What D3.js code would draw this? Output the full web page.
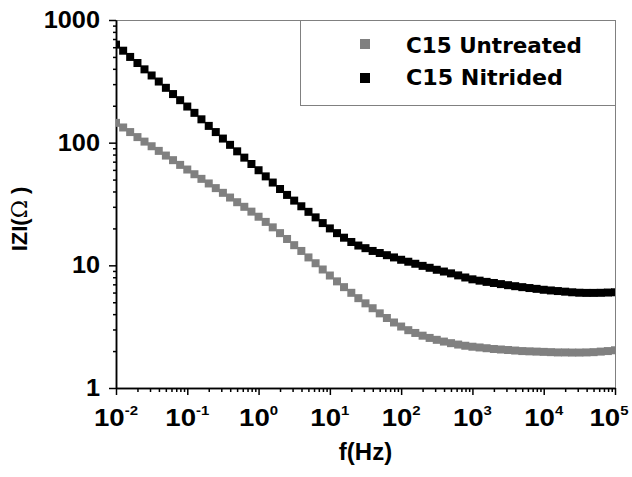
<!DOCTYPE html>
<html>
<head>
<meta charset="utf-8">
<script src="https://cdn.jsdelivr.net/npm/d3@7"></script>
<style>
  body { margin: 0; background: #fff; }
  .lbl { font-family: "Liberation Sans", Arial, sans-serif; font-weight: bold; fill: #000; }
  .leg { font-family: "DejaVu Sans", Verdana, sans-serif; font-weight: bold; fill: #000; }
</style>
</head>
<body>
<div class="canva"></div>
<script>
// frequency (Hz) and |Z| (ohm)
const freqHz = [0.01, 0.0126, 0.0158, 0.02, 0.0251, 0.0316, 0.0398, 0.0501, 0.0631, 0.0794,
  0.1, 0.126, 0.158, 0.2, 0.251, 0.316, 0.398, 0.501, 0.631, 0.794,
  1, 1.26, 1.58, 2, 2.51, 3.16, 3.98, 5.01, 6.31, 7.94,
  10, 12.6, 15.8, 20, 25.1, 31.6, 39.8, 50.1, 63.1, 79.4,
  100, 126, 158, 200, 251, 316, 398, 501, 631, 794,
  1000, 1260, 1580, 2000, 2510, 3160, 3980, 5010, 6310, 7940,
  10000, 12600, 15800, 20000, 25100, 31600, 39800, 50100, 63100, 79400,
  100000];

const untreated = [145, 133, 122, 111, 102, 93.5, 85.7, 78.5, 72.0, 65.9,
  60.4, 55.3, 50.7, 46.5, 42.6, 39.0, 35.7, 32.7, 30.0, 27.4,
  24.9, 22.6, 20.4, 18.3, 16.4, 14.6, 13.1, 11.6, 10.4, 9.25,
  8.26, 7.40, 6.64, 5.97, 5.40, 4.90, 4.47, 4.06, 3.72, 3.42,
  3.17, 2.96, 2.81, 2.67, 2.56, 2.47, 2.39, 2.32, 2.26, 2.21,
  2.17, 2.14, 2.11, 2.08, 2.06, 2.04, 2.02, 2.00, 1.99, 1.98,
  1.97, 1.96, 1.95, 1.95, 1.945, 1.945, 1.95, 1.96, 1.98, 2.00,
  2.03];

const nitrided = [630, 562, 500, 446, 396, 353, 315, 280, 249, 222,
  197, 175, 155, 137, 122, 108, 96, 85, 75.5, 67,
  59.6, 53.1, 47.3, 41.9, 37.5, 33.7, 30.3, 27.3, 24.6, 22.1,
  20.0, 18.3, 16.8, 15.5, 14.5, 13.8, 13.1, 12.6, 12.1, 11.6,
  11.1, 10.7, 10.3, 9.9, 9.55, 9.2, 8.9, 8.6, 8.28, 7.96,
  7.69, 7.5, 7.33, 7.18, 7.03, 6.89, 6.76, 6.64, 6.53, 6.43,
  6.32, 6.24, 6.17, 6.10, 6.03, 5.98, 5.96, 5.96, 5.97, 6.0,
  6.03];

const yTicks = [1, 10, 100, 1000];
const xTickExps = [-2, -1, 0, 1, 2, 3, 4, 5];
const seriesNames = ["C15 Untreated", "C15 Nitrided"];
const seriesColors = ["#808080", "#000000"];

const svg = d3.select(".canva").append("svg")
  .attr("width", 632)
  .attr("height", 477);

const plot = {left: 116, right: 615, top: 20, bottom: 388};

const x = d3.scaleLog().domain([1e-2, 1e5]).range([plot.left, plot.right]);
const y = d3.scaleLog().domain([1, 1000]).range([plot.bottom, plot.top]);

// minor tick positions 2..9 of each decade
const xMinor = [], yMinor = [];
xTickExps.slice(0, -1).forEach(e => { for (let k = 2; k <= 9; k++) xMinor.push(k * Math.pow(10, e)); });
yTicks.slice(0, -1).forEach(t => { for (let k = 2; k <= 9; k++) yMinor.push(k * t); });
const xMajor = xTickExps.map(e => Math.pow(10, e));

// top / right frame
svg.append("line")
  .attr("x1", plot.left).attr("x2", plot.right)
  .attr("y1", plot.top + 0.5).attr("y2", plot.top + 0.5)
  .attr("stroke", "#808080").attr("stroke-width", 1);
svg.append("line")
  .attr("x1", plot.right + 0.5).attr("x2", plot.right + 0.5)
  .attr("y1", plot.top).attr("y2", plot.bottom)
  .attr("stroke", "#808080").attr("stroke-width", 1);

// axes
function styleAxis(g) {
  g.selectAll("path, line").attr("stroke", "#000").attr("stroke-width", 1.5);
  g.selectAll("text").remove();
}
svg.append("g").attr("transform", `translate(0, ${plot.bottom})`)
  .call(d3.axisBottom(x).tickValues(xMinor).tickSize(4).tickSizeOuter(0)).call(styleAxis);
svg.append("g").attr("transform", `translate(0, ${plot.bottom})`)
  .call(d3.axisBottom(x).tickValues(xMajor).tickSize(7).tickSizeOuter(0)).call(styleAxis);
svg.append("g").attr("transform", `translate(${plot.left}, 0)`)
  .call(d3.axisLeft(y).tickValues(yMinor).tickSize(3).tickSizeOuter(0)).call(styleAxis);
svg.append("g").attr("transform", `translate(${plot.left}, 0)`)
  .call(d3.axisLeft(y).tickValues(yTicks).tickSize(7).tickSizeOuter(0)).call(styleAxis);

// y tick labels
svg.selectAll(".ylab").data(yTicks).enter()
  .append("g")
  .attr("transform", d => `translate(100, ${y(d) + 8}) scale(1.1, 1)`)
  .append("text")
  .attr("class", "lbl")
  .attr("text-anchor", "end")
  .style("font-size", "23px")
  .text(d => d);

// x tick labels 10^n
const xl = svg.selectAll(".xlab").data(xTickExps).enter()
  .append("g")
  .attr("transform", d => `translate(${Math.min(x(Math.pow(10, d)), 609)}, 426) scale(1.15, 1)`)
  .append("text")
  .attr("class", "lbl")
  .attr("text-anchor", "middle")
  .style("font-size", "24px");
xl.append("tspan").text("10");
xl.append("tspan").attr("dy", -11).style("font-size", "13px").text(d => d);

// axis titles
svg.append("text")
  .attr("class", "lbl")
  .attr("x", (plot.left + plot.right) / 2).attr("y", 460)
  .attr("text-anchor", "middle")
  .style("font-size", "24px")
  .text("f(Hz)");

const yt = svg.append("text")
  .attr("class", "lbl")
  .attr("transform", `translate(27, ${(plot.top + plot.bottom) / 2 + 15}) rotate(-90)`)
  .attr("text-anchor", "middle")
  .style("font-size", "22px");
yt.append("tspan").text("IZI(");
yt.append("tspan").style("font-family", "'DejaVu Serif', serif").style("font-weight", "normal").text("\u03A9");
yt.append("tspan").text(" )");

// data markers
svg.append("clipPath").attr("id", "clip")
  .append("rect")
  .attr("x", plot.left).attr("y", plot.top)
  .attr("width", plot.right - plot.left).attr("height", plot.bottom - plot.top);

const ms = 8;
[untreated, nitrided].forEach((vals, i) => {
  svg.append("g").attr("clip-path", "url(#clip)")
    .selectAll("rect").data(vals).enter()
    .append("rect")
    .attr("x", (d, j) => x(freqHz[j]) - ms / 2)
    .attr("y", d => y(d) - ms / 2)
    .attr("width", ms).attr("height", ms)
    .attr("fill", seriesColors[i]);
});

// legend
const legend = svg.append("g");
legend.append("rect")
  .attr("x", 300.5).attr("y", plot.top + 0.5)
  .attr("width", plot.right - 300).attr("height", 85)
  .attr("fill", "#fff").attr("stroke", "#808080");
seriesNames.forEach((name, i) => {
  legend.append("rect")
    .attr("x", 360).attr("y", 39 + i * 34)
    .attr("width", 10).attr("height", 10)
    .attr("fill", seriesColors[i]);
  legend.append("text")
    .attr("class", "leg")
    .attr("x", 406).attr("y", 53 + i * 32)
    .style("font-size", "22px")
    .attr("textLength", i === 0 ? 176 : 157)
    .attr("lengthAdjust", "spacingAndGlyphs")
    .text(name);
});
</script>
</body>
</html>
